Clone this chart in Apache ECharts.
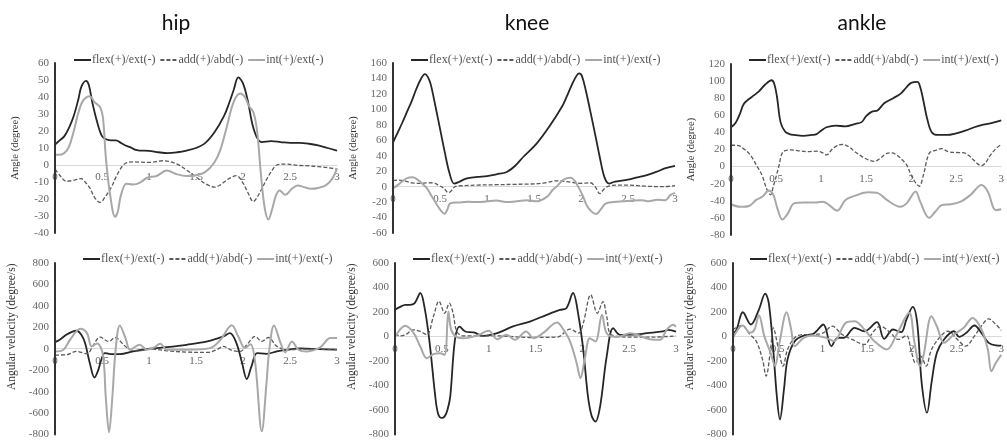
<!DOCTYPE html>
<html>
<head>
<meta charset="utf-8">
<script src="https://cdn.jsdelivr.net/npm/echarts@6/dist/echarts.min.js"></script>
<style>
html,body{margin:0;padding:0;background:#fff;}
#chart{width:1007px;height:440px;}
</style>
</head>
<body>
<div id="chart"></div>
<script>
// ---- titles / legend names ----
const panelTitles = ['hip', 'knee', 'ankle'];
const seriesNames = ['flex(+)/ext(-)', 'add(+)/abd(-)', 'int(+)/ext(-)'];
const xTicks = [0, 0.5, 1, 1.5, 2, 2.5, 3];
const angleName = 'Angle (degree)';
const velName = 'Angular velocity (degree/s)';
const yRanges = [[-40, 60, 10], [-60, 160, 20], [-80, 120, 20], [-800, 800, 200], [-800, 600, 200], [-800, 600, 200]];

// ---- data: [time (s), value] ----
const hipAngFlex = [[0,12],[0.05,14.5],[0.1,17],[0.15,22],[0.2,29],[0.25,39],[0.28,46],[0.33,49.5],[0.36,47],[0.4,36],[0.45,25],[0.5,17],[0.55,15],[0.6,14.5],[0.65,14.5],[0.7,13],[0.75,11.5],[0.8,10.5],[0.85,9],[0.9,8.5],[1.0,8.3],[1.1,7.5],[1.2,7],[1.3,7.5],[1.4,8.5],[1.5,10],[1.6,13],[1.7,19.5],[1.8,29],[1.85,36],[1.9,44],[1.95,51.5],[2.0,48],[2.05,38],[2.1,24],[2.15,16],[2.2,13.5],[2.3,14],[2.4,13.5],[2.5,13],[2.6,13],[2.7,12.5],[2.8,11.5],[2.9,10],[3.0,8.5]];
const hipAngAdd = [[0,-2.5],[0.05,-6],[0.12,-9.6],[0.2,-9],[0.28,-8],[0.32,-10],[0.37,-13.5],[0.42,-19],[0.48,-22],[0.53,-19],[0.6,-13],[0.65,-7],[0.7,-2],[0.75,1],[0.83,1.8],[1.0,1.5],[1.15,2.5],[1.3,0.5],[1.4,-3],[1.5,-7],[1.6,-11],[1.7,-13],[1.75,-12],[1.8,-10],[1.85,-8],[1.93,-6.3],[2.0,-10.6],[2.05,-16],[2.11,-21.5],[2.15,-19],[2.2,-14],[2.25,-8.6],[2.3,-4],[2.36,0],[2.45,0.5],[2.6,-0.3],[2.7,-0.5],[2.8,-1],[2.9,-1.5],[3.0,-2.5]];
const hipAngInt = [[0,6],[0.05,6],[0.1,7],[0.15,11],[0.2,20],[0.25,31],[0.3,38],[0.37,40.5],[0.42,37],[0.48,34],[0.51,28],[0.54,5],[0.58,-15],[0.64,-30.5],[0.67,-27],[0.7,-18],[0.76,-11],[0.83,-11.5],[0.9,-10.5],[0.98,-7.5],[1.08,-6.5],[1.19,-3.3],[1.3,-5.5],[1.4,-6.5],[1.5,-6],[1.6,-4],[1.69,1],[1.76,9],[1.83,23],[1.9,37],[1.97,42],[2.02,40],[2.06,35],[2.11,31],[2.15,20],[2.19,-5],[2.23,-25],[2.27,-32],[2.31,-26],[2.35,-18],[2.39,-15],[2.45,-17.5],[2.52,-14],[2.58,-12],[2.65,-13],[2.72,-14],[2.8,-13.5],[2.88,-12],[2.95,-8],[3.0,-2]];

const kneeAngFlex = [[0,57],[0.05,70],[0.1,83],[0.15,97],[0.2,111],[0.25,127],[0.3,140],[0.34,145.5],[0.37,142],[0.4,133],[0.45,105],[0.5,75],[0.55,45],[0.6,18],[0.65,4],[0.7,6],[0.75,9],[0.8,11],[0.9,12.5],[1.0,13.5],[1.1,16],[1.21,19],[1.3,27],[1.39,39],[1.53,56],[1.67,79],[1.8,104],[1.85,117],[1.9,131],[1.95,143],[1.98,146.5],[2.01,143],[2.05,125],[2.1,97],[2.15,68],[2.2,38],[2.25,12],[2.3,4],[2.35,6],[2.4,7],[2.5,9],[2.6,12],[2.7,15],[2.8,19],[2.9,24],[3.0,27]];
const kneeAngAdd = [[0,8],[0.05,8.5],[0.1,8],[0.15,6.5],[0.2,5],[0.25,4.3],[0.3,4.3],[0.35,4.8],[0.43,5],[0.48,2],[0.54,-2],[0.59,-8],[0.63,-4],[0.66,0],[0.75,1.3],[0.9,2],[1.1,2.5],[1.3,3],[1.46,3.4],[1.6,4.5],[1.74,7.5],[1.85,6.5],[1.99,4.3],[2.1,5],[2.15,0],[2.2,-9],[2.24,-4],[2.28,0],[2.38,2],[2.5,2],[2.7,0.5],[2.88,0],[3.0,1.3]];
const kneeAngInt = [[0,-2],[0.05,2],[0.1,7],[0.15,11],[0.21,12],[0.25,10],[0.3,5],[0.36,-2],[0.41,-12],[0.47,-24],[0.51,-31],[0.55,-35],[0.58,-29],[0.61,-21.5],[0.7,-20.5],[0.8,-19.5],[0.9,-20],[1.0,-19],[1.1,-18],[1.2,-20],[1.32,-19],[1.42,-17.5],[1.53,-19],[1.64,-13],[1.7,-4],[1.74,0],[1.82,9.5],[1.89,11.6],[1.93,8],[1.97,0],[2.02,-12],[2.06,-24],[2.11,-32],[2.16,-35.5],[2.22,-28],[2.26,-22],[2.35,-20],[2.45,-19],[2.55,-18],[2.65,-17.5],[2.72,-19],[2.81,-17],[2.9,-17.5],[2.95,-11],[3.0,-8]];

const ankleAngFlex = [[0,46],[0.05,51],[0.1,62],[0.14,73],[0.2,79],[0.25,83],[0.31,88],[0.38,96],[0.45,101],[0.48,97],[0.51,82],[0.55,52],[0.6,41],[0.65,38],[0.7,37],[0.8,36],[0.9,37],[0.95,38],[1.0,42],[1.06,46],[1.16,48],[1.27,47],[1.38,50],[1.45,52],[1.5,59],[1.56,64],[1.63,66],[1.7,74],[1.8,80],[1.88,85],[1.95,93],[2.0,98],[2.07,99],[2.1,93],[2.13,80],[2.18,55],[2.23,40],[2.3,37],[2.4,37],[2.5,39],[2.6,42],[2.7,46],[2.8,49],[2.9,51],[3.0,54]];
const ankleAngAdd = [[0,25],[0.05,25],[0.1,24],[0.15,20],[0.2,15.5],[0.25,8],[0.28,2],[0.32,-5],[0.35,-11.7],[0.4,-27],[0.44,-33],[0.47,-23],[0.5,-12],[0.53,0],[0.58,17.5],[0.67,19.5],[0.75,18.5],[0.85,17.5],[0.95,18],[1.02,16],[1.06,13.6],[1.12,20],[1.17,24],[1.24,26],[1.31,23],[1.38,17],[1.45,12],[1.52,8],[1.59,6],[1.66,10],[1.73,15.5],[1.79,16],[1.84,13.5],[1.9,8],[1.95,2],[2.0,-10],[2.05,-19],[2.09,-23],[2.14,-8],[2.2,15.5],[2.27,19],[2.34,21],[2.41,17.5],[2.5,16.5],[2.59,16],[2.65,12],[2.69,8],[2.78,1],[2.83,5],[2.87,12],[2.94,21],[3.0,26]];
const ankleAngInt = [[0,-44],[0.1,-47],[0.2,-46],[0.28,-39],[0.35,-35],[0.42,-28],[0.47,-33],[0.51,-47],[0.57,-62],[0.63,-55],[0.7,-43],[0.81,-42],[0.95,-42],[1.02,-41],[1.09,-45],[1.18,-51.5],[1.27,-39],[1.38,-34],[1.52,-30],[1.63,-31],[1.73,-39],[1.88,-47],[1.95,-43],[2.05,-29],[2.1,-41],[2.2,-60],[2.27,-52.5],[2.34,-45],[2.44,-44],[2.55,-41],[2.66,-33],[2.78,-21.5],[2.85,-29],[2.94,-51],[3.0,-50]];

const hipVelFlex = [[0,62],[0.05,85],[0.12,130],[0.18,158],[0.23,168],[0.28,130],[0.32,53],[0.37,-133],[0.42,-268],[0.46,-200],[0.49,-110],[0.53,-40],[0.59,-50],[0.69,-50],[0.83,-25],[1.01,0],[1.19,15],[1.4,37],[1.62,68],[1.79,115],[1.86,146],[1.93,53],[1.99,-133],[2.04,-283],[2.09,-165],[2.15,-40],[2.25,-47],[2.36,-25],[2.47,-9],[2.61,3],[2.8,-3],[3.0,-9]];
const hipVelAdd = [[0,-59],[0.12,-56],[0.23,-25],[0.34,-47],[0.41,37],[0.48,109],[0.57,68],[0.64,105],[0.73,37],[0.8,-9],[0.9,-19],[1.01,0],[1.19,-19],[1.4,-31],[1.62,-34],[1.72,-9],[1.79,22],[1.88,-15],[1.97,-25],[2.04,37],[2.13,115],[2.2,68],[2.27,105],[2.36,22],[2.47,-9],[2.7,-3],[3.0,-9]];
const hipVelInt = [[0,-25],[0.09,-9],[0.16,84],[0.27,186],[0.34,146],[0.39,22],[0.45,50],[0.51,-60],[0.54,-450],[0.575,-780],[0.61,-450],[0.645,-9],[0.69,217],[0.75,100],[0.8,-9],[0.9,37],[0.98,-9],[1.05,10],[1.12,47],[1.19,-9],[1.4,-9],[1.65,6],[1.76,84],[1.88,220],[1.95,115],[2.02,6],[2.08,43],[2.13,-133],[2.2,-770],[2.25,-320],[2.28,-9],[2.33,217],[2.4,53],[2.45,-34],[2.52,68],[2.59,-9],[2.68,-25],[2.82,12],[2.93,100],[3.0,100]];

const kneeVelFlex = [[0,218],[0.05,240],[0.11,258],[0.16,258],[0.21,272],[0.27,355],[0.32,217],[0.37,-54],[0.43,-489],[0.46,-630],[0.5,-665],[0.53,-652],[0.56,-600],[0.59,-489],[0.64,-27],[0.69,80],[0.75,41],[0.84,33],[0.94,5],[1.09,27],[1.26,82],[1.44,122],[1.62,177],[1.76,217],[1.83,231],[1.9,355],[1.96,163],[2.01,-109],[2.06,-489],[2.1,-650],[2.14,-695],[2.19,-570],[2.26,-163],[2.33,68],[2.4,14],[2.55,15],[2.69,27],[2.86,41],[2.92,54],[3.0,40]];
const kneeVelAdd = [[0,22],[0.05,5],[0.11,14],[0.2,54],[0.27,41],[0.34,14],[0.41,163],[0.47,288],[0.53,190],[0.58,272],[0.62,190],[0.66,41],[0.73,5],[1.09,5],[1.44,-8],[1.73,-5],[1.87,60],[1.96,27],[2.01,109],[2.09,340],[2.16,190],[2.22,285],[2.26,163],[2.31,14],[2.51,-5],[2.75,-5],[3.0,5]];
const kneeVelInt = [[0,-5],[0.11,87],[0.2,27],[0.27,-82],[0.34,-177],[0.41,-144],[0.48,-136],[0.53,-150],[0.57,204],[0.6,54],[0.66,-5],[0.73,-14],[0.87,5],[1.0,46],[1.09,-22],[1.19,14],[1.28,-27],[1.4,41],[1.48,-14],[1.58,27],[1.73,114],[1.8,54],[1.87,-41],[1.94,-220],[1.98,-340],[2.03,-166],[2.08,-14],[2.14,-41],[2.21,177],[2.26,27],[2.37,-5],[2.51,27],[2.72,-22],[2.83,-27],[2.9,54],[2.97,95],[3.0,80]];

const ankleVelFlex = [[0,22],[0.04,57],[0.11,198],[0.2,98],[0.29,220],[0.36,350],[0.4,274],[0.45,-106],[0.49,-486],[0.525,-677],[0.57,-432],[0.61,-187],[0.69,-38],[0.79,8],[0.9,22],[1.01,98],[1.1,-79],[1.17,-11],[1.24,-11],[1.36,71],[1.47,43],[1.61,117],[1.69,-19],[1.79,57],[1.88,35],[1.94,139],[2.01,242],[2.06,111],[2.11,-378],[2.17,-622],[2.22,-378],[2.28,-133],[2.36,-24],[2.47,43],[2.53,-3],[2.61,30],[2.7,90],[2.79,16],[2.86,-52],[2.94,-73],[3.0,-75]];
const ankleVelAdd = [[0,57],[0.1,90],[0.19,16],[0.26,-38],[0.33,-187],[0.37,-323],[0.42,-106],[0.45,71],[0.51,-106],[0.56,-242],[0.61,-106],[0.69,-11],[0.79,16],[0.9,16],[1.01,30],[1.11,84],[1.22,16],[1.33,-24],[1.47,-65],[1.56,30],[1.65,84],[1.76,30],[1.85,-24],[1.94,8],[1.99,-106],[2.04,-214],[2.1,-160],[2.16,-242],[2.22,-106],[2.33,8],[2.4,43],[2.51,-24],[2.6,-79],[2.7,3],[2.79,98],[2.86,144],[2.94,98],[3.0,50]];
const ankleVelInt = [[0,-11],[0.11,90],[0.19,30],[0.24,57],[0.29,174],[0.35,3],[0.42,-133],[0.47,-240],[0.52,-50],[0.6,198],[0.65,60],[0.69,-79],[0.79,-11],[0.9,8],[1.04,-11],[1.13,-38],[1.26,111],[1.36,125],[1.47,57],[1.58,-38],[1.72,-106],[1.83,16],[1.97,193],[2.03,-52],[2.09,-242],[2.13,-160],[2.22,166],[2.28,84],[2.36,-52],[2.47,16],[2.58,71],[2.68,152],[2.78,57],[2.85,-106],[2.89,-283],[2.94,-215],[3.0,-150]];

const panelData = [
  [hipAngFlex, hipAngAdd, hipAngInt],
  [kneeAngFlex, kneeAngAdd, kneeAngInt],
  [ankleAngFlex, ankleAngAdd, ankleAngInt],
  [hipVelFlex, hipVelAdd, hipVelInt],
  [kneeVelFlex, kneeVelAdd, kneeVelInt],
  [ankleVelFlex, ankleVelAdd, ankleVelInt]
];

// ---- layout / style ----
const SERIF = 'Liberation Serif';
const grids = [
  {left: 55, top: 63, width: 282, height: 170},
  {left: 393, top: 63, width: 282, height: 170},
  {left: 731, top: 64, width: 280, height: 171},
  {left: 55, top: 263, width: 282, height: 172},
  {left: 395, top: 263, width: 281, height: 172},
  {left: 733, top: 263, width: 280, height: 172}
];
const legendPos = [[73, 54], [410, 54], [748, 54], [82, 253], [412, 253], [749, 253]];
const titlePos = [[176, 23], [527, 23], [862, 23]];
const lineStyles = [
  {color: '#262626', width: 1.8, type: 'solid'},
  {color: '#5a5a5a', width: 1.3, type: [4, 2]},
  {color: '#a8a8a8', width: 2, type: 'solid'}
];

// the category axis crosses the value axis at zero: shift it up from the grid bottom
const zeroOffset = (i) => -grids[i].height * (0 - yRanges[i][0]) / (yRanges[i][1] - yRanges[i][0]);

const xAxis = grids.map((g, i) => ({
  type: 'value', gridIndex: i, min: xTicks[0], max: xTicks[xTicks.length - 1], interval: 0.5,
  position: 'bottom', offset: zeroOffset(i),
  axisLine: {onZero: false, lineStyle: {color: '#d9d9d9', width: 1}},
  axisTick: {show: false}, splitLine: {show: false},
  axisLabel: {color: '#666', fontFamily: SERIF, fontSize: 11, margin: 7, showMaxLabel: true, showMinLabel: true},
  z: 1
}));
const yAxis = grids.map((g, i) => ({
  type: 'value', gridIndex: i, min: yRanges[i][0], max: yRanges[i][1], interval: yRanges[i][2],
  axisLine: {show: true, onZero: false, lineStyle: {color: '#333', width: 2}},
  axisTick: {show: false}, splitLine: {show: false},
  axisLabel: {color: '#666', fontFamily: SERIF, fontSize: 11, margin: 6},
  name: i < 3 ? angleName : velName,
  nameLocation: 'middle',
  nameGap: i < 3 ? 34 : 37,
  nameTextStyle: i < 3
    ? {color: '#333', fontFamily: SERIF, fontSize: 10.5}
    : {color: '#333', fontFamily: SERIF, fontSize: 11.5, padding: [0, 0, 0, 44]},
  z: 3
}));

const series = [];
panelData.forEach((arr, p) => {
  arr.forEach((d, k) => {
    series.push({
      type: 'line', name: seriesNames[k], data: d,
      xAxisIndex: p, yAxisIndex: p,
      symbol: 'none', showSymbol: false, smooth: 0.35,
      lineStyle: lineStyles[k], itemStyle: {color: lineStyles[k].color},
      emphasis: {disabled: true}, animation: false, z: 2
    });
  });
});

const legend = legendPos.map(([l, t]) => ({
  left: l, top: t, width: 330, data: seriesNames, itemWidth: 17, itemHeight: 12, itemGap: 4,
  selectedMode: false, padding: 0,
  itemStyle: {opacity: 0},
  textStyle: {color: '#555', fontFamily: SERIF, fontSize: 12, padding: [0, 0, 0, -4]}
}));

const graphic = panelTitles.map((txt, i) => ({
  type: 'text', x: titlePos[i][0], y: titlePos[i][1],
  style: {text: txt, fill: '#111', font: '21px Lato', align: 'center', verticalAlign: 'middle'}
}));

const chart = echarts.init(document.getElementById('chart'), null, {renderer: 'canvas'});
chart.setOption({
  backgroundColor: '#fff',
  animation: false,
  grid: grids, xAxis, yAxis, series, legend, graphic
});
</script>
</body>
</html>
